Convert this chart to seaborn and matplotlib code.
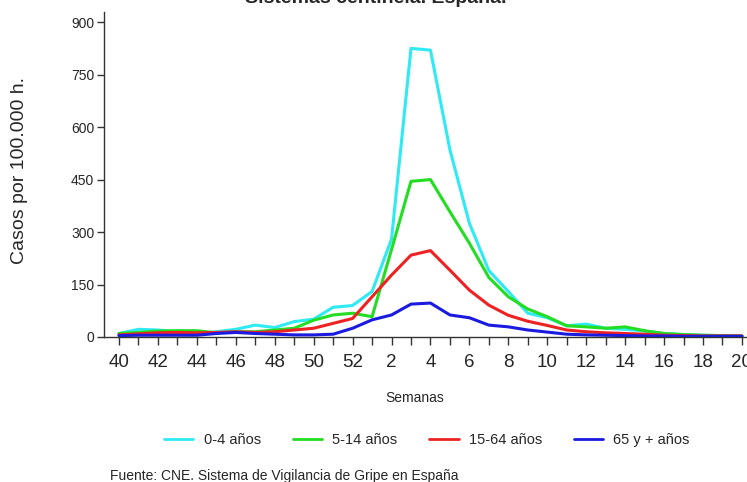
import matplotlib
matplotlib.use("Agg")
import matplotlib.pyplot as plt
import seaborn as sns
import pandas as pd

weeks = [40, 41, 42, 43, 44, 45, 46, 47, 48, 49, 50, 51, 52,
         1, 2, 3, 4, 5, 6, 7, 8, 9, 10, 11, 12, 13, 14, 15, 16, 17, 18, 19, 20]
tick_labels = ["40", "42", "44", "46", "48", "50", "52", "2", "4", "6", "8",
               "10", "12", "14", "16", "18", "20"]
series_names = ["0-4 años", "5-14 años", "15-64 años", "65 y + años"]
s_0_4 = [10, 22, 20, 15, 10, 15, 22, 34, 27, 44, 51, 85, 90,
         130, 280, 825, 820, 535, 325, 190, 130, 68, 55, 32, 37, 25, 22, 17, 10, 7, 5, 4, 3]
s_5_14 = [10, 13, 17, 18, 18, 12, 15, 15, 20, 25, 48, 63, 68,
          58, 250, 445, 450, 358, 268, 170, 115, 80, 58, 32, 29, 25, 29, 18, 10, 7, 5, 4, 3]
s_15_64 = [6, 9, 12, 13, 12, 13, 15, 13, 15, 20, 25, 39, 53,
           115, 177, 234, 247, 191, 134, 91, 62, 45, 33, 20, 15, 12, 10, 8, 5, 4, 3, 3, 3]
s_65 = [4, 5, 5, 5, 5, 10, 13, 10, 8, 6, 6, 8, 25,
        49, 63, 94, 97, 63, 55, 34, 29, 20, 14, 8, 6, 5, 4, 3, 3, 2, 2, 2, 2]
colors = ["#2EEAF2", "#22DD22", "#EE2222", "#1A1AE0"]

rows = []
for name, vals in zip(series_names, [s_0_4, s_5_14, s_15_64, s_65]):
    for i, (w, v) in enumerate(zip(weeks, vals)):
        rows.append({"pos": i, "semana": w, "valor": v, "grupo": name})
df = pd.DataFrame(rows)

sns.set_style("white")
plt.rcParams["font.family"] = ["Liberation Sans", "DejaVu Sans"]

fig = plt.figure(figsize=(7.47, 4.82), dpi=100)
ax = fig.add_axes([104 / 747, 1 - 337 / 482, (747 - 104) / 747, (337 - 12) / 482])

sns.lineplot(data=df, x="pos", y="valor", hue="grupo", hue_order=series_names,
             palette=colors, linewidth=2.2, ax=ax, legend=False)

ax.set_xlim(-0.77, 32.26)
ax.set_ylim(0, 929)
ax.set_yticks([0, 150, 300, 450, 600, 750, 900])
ax.set_yticklabels(["0", "150", "300", "450", "600", "750", "900"], fontsize=10)
ax.set_xticks(range(len(weeks)), minor=True)
major_pos = [i for i, w in enumerate(weeks) if str(w) in tick_labels]
ax.set_xticks(major_pos)
ax.set_xticklabels(tick_labels, fontsize=13.5)
ax.tick_params(axis="x", which="both", direction="out", length=6, width=1, color="#333333", pad=6)
ax.tick_params(axis="y", direction="out", length=5, width=1, color="#333333", pad=2)
ax.xaxis.set_ticks_position("bottom")
ax.yaxis.set_ticks_position("left")
for s in ["top", "right"]:
    ax.spines[s].set_visible(False)
for s in ["left", "bottom"]:
    ax.spines[s].set_color("#333333")
    ax.spines[s].set_linewidth(1)
ax.set_xlabel("")
ax.set_ylabel("")

fig.text(20 / 747, 1 - 170 / 482, "Casos por 100.000 h.", rotation=90,
         ha="center", va="center", fontsize=14)
fig.text(415 / 747, 1 - 398 / 482, "Semanas", ha="center", va="center", fontsize=10)
fig.text(376 / 747, 1 - 3 / 482, "Sistemas centinela. España.", ha="center",
         va="baseline", fontsize=14, fontweight="bold")
fig.text(110 / 747, 1 - 476 / 482, "Fuente: CNE. Sistema de Vigilancia de Gripe en España",
         ha="left", va="center", fontsize=10)

from matplotlib.lines import Line2D
handles = [Line2D([0], [0], color=c, lw=2) for c in colors]
fig.legend(handles, series_names, loc="center", bbox_to_anchor=(427 / 747, 1 - 440 / 482),
           ncol=4, frameon=False, fontsize=10.5, handlelength=2.0, columnspacing=2.2,
           handletextpad=0.7)

fig.savefig("out.png", dpi=100)
